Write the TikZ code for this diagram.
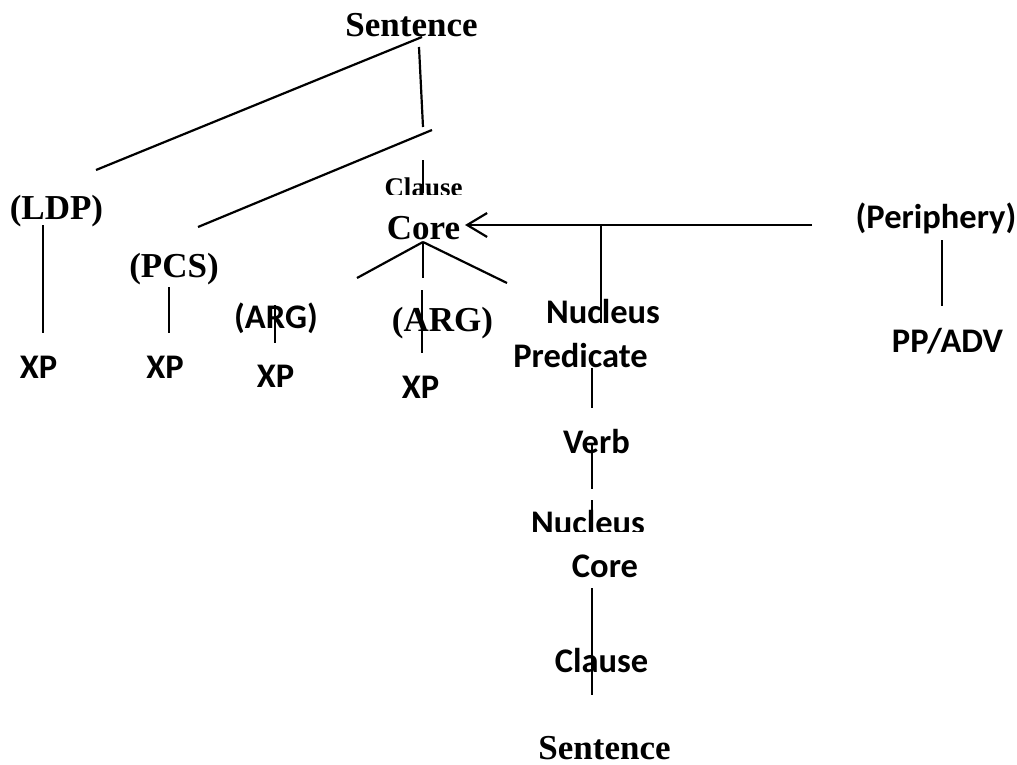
\documentclass[tikz,border=0pt]{standalone}
\usepackage{fontspec}
\newfontfamily\tmsfont{Liberation Serif}
\newfontfamily\calfont{Carlito}
\usetikzlibrary{arrows.meta}
\begin{document}
\begin{tikzpicture}[x=1pt,y=-1pt,
  tms/.style={inner sep=0pt, anchor=base, font=\tmsfont\bfseries\fontsize{35}{40}\selectfont},
  tmssmall/.style={inner sep=0pt, anchor=base, font=\tmsfont\bfseries\fontsize{27}{30}\selectfont},
  cal/.style={inner sep=0pt, anchor=base, font=\calfont\bfseries\fontsize{34.5}{40}\selectfont},
  edge/.style={line width=2.2pt, black}]
\useasboundingbox (0,0) rectangle (1017,765);

% ---- labels (positioned at their baselines) ----
\node[tms] (sentTop) at (411.5,37) {Sentence};
\node[tms] (ldp) at (56.5,219) {(LDP)};
\node[tms] (pcs) at (174,277) {(PCS)};
\node[cal] (xpA) at (38.5,378) {XP};
\node[cal] (xpB) at (165,378) {XP};
\node[cal] (argL) at (276,328) {(ARG)};
\node[cal] (xpC) at (275.5,387) {XP};
\node[tms] (argR) at (442.5,331) {(ARG)};
\node[cal] (xpD) at (420.5,398) {XP};
\begin{scope}
  \clip (370,150) rectangle (480,194);
  \node[tmssmall] (clauseTop) at (423.5,196) {Clause};
\end{scope}
\node[tms] (coreTop) at (423.5,239) {Core};
\node[cal] (nucTop) at (603,323) {Nucleus};
\node[cal] (pred) at (580.5,367) {Predicate};
\node[cal] (verb) at (596.5,453) {Verb};
\begin{scope}
  \clip (520,500) rectangle (660,531);
  \node[cal] (nucLow) at (588,534) {Nucleus};
\end{scope}
\node[cal] (coreLow) at (605,577) {Core};
\node[cal] (clauseLow) at (601.5,672) {Clause};
\node[tms] (sentLow) at (604.5,759) {Sentence};
\node[cal] (periph) at (936,228) {(Periphery)};
\node[cal] (ppadv) at (947.5,352) {PP/ADV};

% ---- branch end points ----
\coordinate (sA) at (422,37);
\coordinate (ldpTop) at (96,170);
\coordinate (sB) at (419,47);
\coordinate (sC) at (423,127);
\coordinate (cA) at (432,130);
\coordinate (pcsTop) at (198,227);
\coordinate (clA) at (423,160);
\coordinate (clB) at (423,193);
\coordinate (apex) at (423,242);
\coordinate (brL) at (357,278);
\coordinate (brM) at (423,278);
\coordinate (brR) at (507,283);
\coordinate (aLa) at (275,305);
\coordinate (aLb) at (275,343);
\coordinate (aRa) at (422,290);
\coordinate (aRb) at (422,353);
\coordinate (ldpA) at (43,225);
\coordinate (ldpB) at (43,333);
\coordinate (pcsA) at (169,287);
\coordinate (pcsB) at (169,333);
\coordinate (arrStart) at (812,225);
\coordinate (arrTip) at (465,225);
\coordinate (nucA) at (601,225);
\coordinate (nucB) at (601,323);
\coordinate (vA) at (592,368);
\coordinate (vB) at (592,408);
\coordinate (vC) at (592,443);
\coordinate (vD) at (592,489);
\coordinate (vE) at (592,500);
\coordinate (vF) at (592,520);
\coordinate (vG) at (592,588);
\coordinate (vH) at (592,695);
\coordinate (pA) at (942,240);
\coordinate (pB) at (942,306);

% ---- branches ----
\draw[edge] (sA) -- (ldpTop);
\draw[edge] (sB) -- (sC);
\draw[edge] (cA) -- (pcsTop);
\draw[edge] (clA) -- (clB);
\draw[edge] (apex) -- (brL);
\draw[edge] (apex) -- (brM);
\draw[edge] (apex) -- (brR);
\draw[edge] (aLa) -- (aLb);
\draw[edge] (aRa) -- (aRb);
\draw[edge] (ldpA) -- (ldpB);
\draw[edge] (pcsA) -- (pcsB);
\draw[edge, -{Straight Barb[length=20pt,width=24pt]}] (arrStart) -- (arrTip);
\draw[edge] (nucA) -- (nucB);
\draw[edge] (vA) -- (vB);
\draw[edge] (vC) -- (vD);
\draw[edge] (vE) -- (vF);
\draw[edge] (vG) -- (vH);
\draw[edge] (pA) -- (pB);
\end{tikzpicture}
\end{document}
